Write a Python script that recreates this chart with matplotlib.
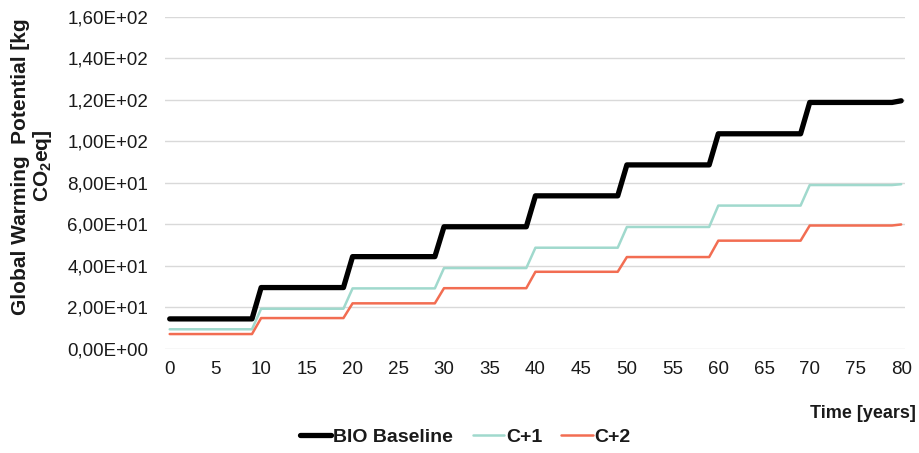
import matplotlib
matplotlib.use("Agg")
import matplotlib.pyplot as plt
from matplotlib.ticker import FuncFormatter, MultipleLocator

plt.rcParams['font.family'] = ['Liberation Sans', 'DejaVu Sans']
plt.rcParams['mathtext.fontset'] = 'custom'
plt.rcParams['mathtext.rm'] = 'Liberation Sans'
plt.rcParams['mathtext.bf'] = 'Liberation Sans:bold'

years = [0, 9, 10, 19, 20, 29, 30, 39, 40, 49, 50, 59, 60, 69, 70, 79, 80]
bio_baseline = [14.5, 14.5, 29.6, 29.6, 44.5, 44.5, 58.9, 58.9, 73.8, 73.8,
                88.7, 88.7, 103.7, 103.7, 118.8, 118.8, 119.6]
c_plus_1 = [9.5, 9.5, 19.4, 19.4, 29.2, 29.2, 39.0, 39.0, 48.8, 48.8,
            58.8, 58.8, 69.1, 69.1, 79.0, 79.0, 79.4]
c_plus_2 = [7.2, 7.2, 14.9, 14.9, 22.0, 22.0, 29.3, 29.3, 37.2, 37.2,
            44.3, 44.3, 52.2, 52.2, 59.5, 59.5, 60.0]
series_names = ["BIO Baseline", "C+1", "C+2"]

fig = plt.figure(figsize=(9.2, 4.53), dpi=100)
ax = fig.add_axes([0.179, 0.2296, 0.805, 0.733])

text_color = '#1a1a1a'
ax.plot(years, bio_baseline, color='black', lw=3.8, solid_capstyle='round',
        solid_joinstyle='round', label=series_names[0], zorder=3)
ax.plot(years, c_plus_1, color='#a0d9cd', lw=1.8, solid_capstyle='round',
        label=series_names[1], zorder=3)
ax.plot(years, c_plus_2, color='#f26d52', lw=1.8, solid_capstyle='round',
        label=series_names[2], zorder=3)

ax.set_xlim(-0.55, 80.45)
ax.set_ylim(0, 160)
ax.xaxis.set_major_locator(MultipleLocator(5))
ax.yaxis.set_major_locator(MultipleLocator(20))

def sci_fmt(v, pos):
    s = "{:.2E}".format(v)
    return s.replace('.', ',')

ax.yaxis.set_major_formatter(FuncFormatter(sci_fmt))
ax.grid(axis='y', color='#d9d9d9', lw=1.0, zorder=0)
ax.set_axisbelow(True)
for sp in ax.spines.values():
    sp.set_visible(False)
ax.tick_params(axis='both', length=0, labelsize=13.5, colors=text_color)
ax.tick_params(axis='y', pad=12)
ax.tick_params(axis='x', pad=9)

fig.text(0.035, 0.633, "Global Warming  Potential [kg\nCO$_\\mathbf{2}$eq]",
         rotation=90, ha='center', va='center', fontsize=15,
         fontweight='bold', color=text_color, multialignment='center',
         linespacing=1.05)
fig.text(0.995, 1 - 413 / 453, "Time [years]", ha='right', va='center',
         fontsize=13, fontweight='bold', color=text_color)

leg = fig.legend(loc='center', bbox_to_anchor=(0.506, 1 - 437 / 453), ncol=3,
                 frameon=False, fontsize=14, handlelength=1.6,
                 handletextpad=0.1, columnspacing=1.0)
for t in leg.get_texts():
    t.set_fontweight('bold')
    t.set_color(text_color)

fig.savefig("out.png", dpi=100)
